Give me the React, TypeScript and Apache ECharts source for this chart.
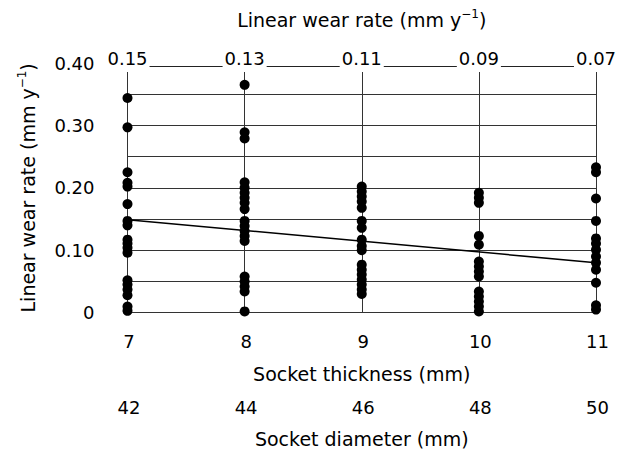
import React, { useEffect, useRef } from "react";
import * as echarts from "echarts";

const thicknessTicks = [7, 8, 9, 10, 11];
const diameterTicks = [42, 44, 46, 48, 50];
const topRateLabels = ["0.15", "0.13", "0.11", "0.09", "0.07"];

const col7 = [0.344, 0.297, 0.225, 0.208, 0.202, 0.174, 0.147, 0.14, 0.117, 0.111, 0.104, 0.096, 0.052, 0.045, 0.037, 0.028, 0.01, 0.003];
const col8 = [0.365, 0.289, 0.279, 0.209, 0.2, 0.192, 0.184, 0.176, 0.166, 0.147, 0.139, 0.131, 0.123, 0.115, 0.058, 0.05, 0.042, 0.034, 0.002];
const col9 = [0.202, 0.194, 0.186, 0.178, 0.168, 0.147, 0.136, 0.117, 0.107, 0.1, 0.077, 0.069, 0.061, 0.053, 0.045, 0.037, 0.03];
const col10 = [0.192, 0.184, 0.176, 0.123, 0.109, 0.082, 0.074, 0.066, 0.058, 0.034, 0.026, 0.018, 0.01, 0.002];
const col11 = [0.233, 0.225, 0.183, 0.147, 0.119, 0.111, 0.101, 0.09, 0.08, 0.069, 0.048, 0.012, 0.005];

const regression = [
  [7, 0.149],
  [11, 0.08],
];

const FONT = "DejaVu Sans";
const TEXT = "#000";
const LINE = "#333";

export default function App() {
  const ref = useRef<HTMLDivElement>(null);

  useEffect(() => {
    if (!ref.current) return;
    const chart = echarts.init(ref.current, undefined, { renderer: "svg" });
    const columns = [col7, col8, col9, col10, col11];
    const points: number[][] = [];
    columns.forEach((col, i) => col.forEach((v) => points.push([thicknessTicks[i], v])));

    const supRich = {
      sup: { fontSize: 12, lineHeight: 12, verticalAlign: "top", fontFamily: FONT, color: TEXT },
    };

    chart.setOption({
      animation: false,
      backgroundColor: "#fff",
      grid: { left: 127.5, right: 30, top: 63, bottom: 142.3, containLabel: false },
      xAxis: [
        {
          type: "value",
          position: "bottom",
          min: 7,
          max: 11,
          interval: 1,
          axisLine: { show: false },
          axisTick: { show: false },
          axisLabel: { fontSize: 18, fontFamily: FONT, color: TEXT, margin: 20, padding: [0, 0, 0, 3] },
          splitLine: { show: true, lineStyle: { color: LINE, width: 1 } },
          name: "Socket thickness (mm)",
          nameLocation: "middle",
          nameGap: 52,
          nameTextStyle: { fontSize: 19, fontFamily: FONT, color: TEXT },
        },
        {
          type: "value",
          position: "bottom",
          offset: 66,
          min: 42,
          max: 50,
          interval: 2,
          axisLine: { show: false },
          axisTick: { show: false },
          splitLine: { show: false },
          axisLabel: { fontSize: 18, fontFamily: FONT, color: TEXT, margin: 20, padding: [0, 0, 0, 3] },
          name: "Socket diameter (mm)",
          nameLocation: "middle",
          nameGap: 51,
          nameTextStyle: { fontSize: 19, fontFamily: FONT, color: TEXT },
        },
        {
          type: "value",
          position: "top",
          offset: -3,
          min: 7,
          max: 11,
          interval: 1,
          axisLine: { show: true, lineStyle: { color: "#222", width: 1 } },
          axisTick: { show: false },
          splitLine: { show: false },
          axisLabel: {
            fontSize: 18,
            fontFamily: FONT,
            color: TEXT,
            margin: -6,
            lineHeight: 16,
            backgroundColor: "#fff",
            padding: [2, 2, 6, 2],
            formatter: (v: number) => topRateLabels[thicknessTicks.indexOf(Math.round(v))] ?? "",
          },
          name: "Linear wear rate (mm y{sup|−1})",
          nameLocation: "middle",
          nameGap: 34,
          nameTextStyle: { fontSize: 19, fontFamily: FONT, color: TEXT, lineHeight: 24, rich: supRich },
        },
      ],
      yAxis: {
        type: "value",
        min: 0,
        max: 0.4,
        interval: 0.05,
        axisLine: { show: false },
        axisTick: { show: false },
        splitLine: { show: true, showMaxLine: false, lineStyle: { color: LINE, width: 1 } },
        axisLabel: {
          fontSize: 18,
          fontFamily: FONT,
          color: TEXT,
          margin: 33,
          formatter: (v: number) => {
            const r = Math.round(v * 100);
            if (r % 10 !== 0) return "";
            return r === 0 ? "0" : (r / 100).toFixed(2);
          },
        },
        name: "Linear wear rate (mm y{sup|−1})",
        nameLocation: "middle",
        nameRotate: 90,
        nameGap: 88,
        nameTextStyle: { fontSize: 19, fontFamily: FONT, color: TEXT, lineHeight: 24, rich: supRich },
      },
      series: [
        {
          type: "line",
          xAxisIndex: 0,
          data: regression,
          showSymbol: false,
          symbol: "none",
          lineStyle: { color: "#000", width: 1.5 },
          z: 3,
        },
        {
          type: "scatter",
          xAxisIndex: 0,
          data: points,
          symbol: "circle",
          symbolSize: 10,
          itemStyle: { color: "#000", opacity: 1 },
          z: 4,
        },
      ],
    });
    return () => chart.dispose();
  }, []);

  return (
    <div
      ref={ref}
      style={{ position: "absolute", left: 0, top: 0, width: 626, height: 455, background: "#fff" }}
    />
  );
}
